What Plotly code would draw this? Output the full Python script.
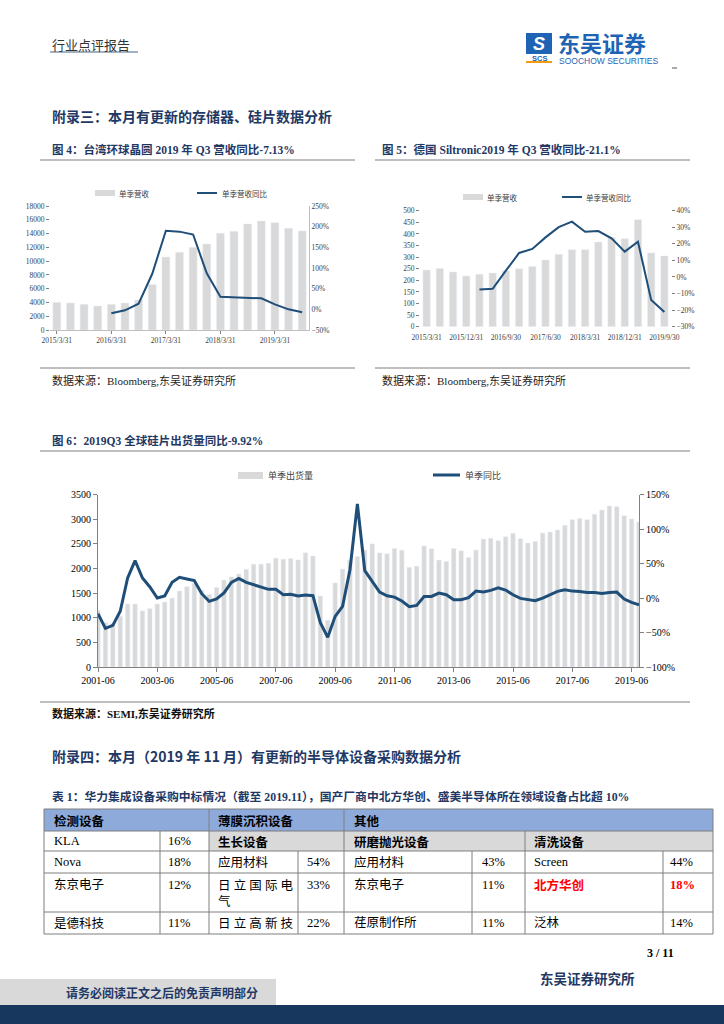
import plotly.graph_objects as go

# ---------------- data ----------------
fig4_quarters = ["2015/3/31", "2015/6/30", "2015/9/30", "2015/12/31", "2016/3/31", "2016/6/30",
                 "2016/9/30", "2016/12/31", "2017/3/31", "2017/6/30", "2017/9/30", "2017/12/31",
                 "2018/3/31", "2018/6/30", "2018/9/30", "2018/12/31", "2019/3/31", "2019/6/30", "2019/9/30"]
fig4_revenue = [4016, 3920, 3726, 3484, 3726, 3920, 4355, 6581, 10597, 11275, 12001, 12485,
                14033, 14323, 15388, 15823, 15581, 14759, 14372]
fig4_yoy = [None, None, None, None, -9.7, -2.4, 13.7, 86, 190, 188, 181, 87,
            30.6, 29.8, 28.2, 26.6, 12.1, 0.0, -7.13]
fig4_ticks = ["2015/3/31", "2016/3/31", "2017/3/31", "2018/3/31", "2019/3/31"]

fig5_quarters = fig4_quarters
fig5_revenue = [244, 251, 236, 218, 226, 231, 241, 250, 260, 287, 312, 332,
                332, 365, 384, 379, 461, 318, 305]
fig5_yoy = [None, None, None, None, -7.5, -7.1, 3.8, 14.5, 16.9, 23.9, 30.1, 33.4,
            27.3, 27.7, 23.3, 15.3, 21.3, -13.9, -21.1]
fig5_ticks = ["2015/3/31", "2015/12/31", "2016/9/30", "2017/6/30", "2018/3/31", "2018/12/31", "2019/9/30"]

fig6_quarters = [f"{y}-{m}" for y in range(2001, 2020) for m in ("03", "06", "09", "12")][1:75]
fig6_shipments = [1150, 900, 880, 1030, 1280, 1280, 1140, 1185, 1280, 1320, 1400, 1545, 1630, 1700,
                  1560, 1475, 1615, 1765, 1830, 1890, 1986, 2088, 2088, 2108, 2210, 2190, 2200, 2175,
                  2320, 2255, 1444, 950, 1708, 1990, 2170, 2245, 2376, 2500, 2318, 2300, 2406, 2373,
                  2024, 2048, 2460, 2403, 2173, 2142, 2406, 2360, 2224, 2376, 2600, 2613, 2566, 2647,
                  2715, 2606, 2518, 2552, 2721, 2742, 2782, 2877, 2992, 3019, 2992, 3101, 3189, 3270,
                  3256, 3074, 3006, 2945]
fig6_yoy = [-22.6, -43.9, -39.6, -19.2, 29.1, 54.3, 29.1, 16.1, 0.1, 3.0, 22.8, 30.1, 27.7, 25.3,
            6.4, -4.7, -1.3, 7.4, 22.8, 28.6, 22.8, 19.4, 15.1, 12.7, 12.7, 4.9, 5.4, 3.0,
            4.5, 3.5, -35.7, -57.0, -26.5, -12.0, 41.2, 136.5, 39.8, 25.1, 8.7, 3.4, 1.4, -4.3,
            -12.5, -10.6, 2.4, 2.4, 7.2, 4.8, -2.4, -2.4, 0.5, 10.1, 8.7, 11.1, 15.0, 11.6,
            4.8, -0.5, -1.9, -3.9, 0.0, 4.8, 9.7, 12.1, 10.1, 9.7, 8.2, 8.2, 6.8, 8.2,
            8.7, -1.4, -6.3, -9.92]
fig6_ticks = ["2001-06", "2003-06", "2005-06", "2007-06", "2009-06", "2011-06",
              "2013-06", "2015-06", "2017-06", "2019-06"]

table_header = ["检测设备", "薄膜沉积设备", "其他"]
table_sub = ["生长设备", "研磨抛光设备", "清洗设备"]
table_rows = [
    ["KLA", "16%", None, None, None, None, None, None],
    ["Nova", "18%", "应用材料", "54%", "应用材料", "43%", "Screen", "44%"],
    ["东京电子", "12%", "日 立 国 际 电<br>气", "33%", "东京电子", "11%", "北方华创", "18%"],
    ["是德科技", "11%", "日 立 高 新 技", "22%", "荏原制作所", "11%", "泛林", "14%"],
]

# ---------------- helpers ----------------
W, H = 724, 1024
def fx(x):
    return x / W
def fy(y):
    return 1 - y / H

NAVY = "#1F3864"
LINE = "#1F4E79"
BAR = "#D9D9D9"
SERIF = "Liberation Serif, Noto Sans CJK SC"
CJK = "Noto Sans CJK SC, Liberation Serif"

fig = go.Figure()

# Fig 4
fig.add_trace(go.Bar(x=fig4_quarters, y=fig4_revenue, marker_color=BAR, width=0.58,
                     xaxis="x", yaxis="y", showlegend=False))
fig.add_trace(go.Scatter(x=fig4_quarters, y=fig4_yoy, mode="lines", line=dict(color=LINE, width=2),
                         xaxis="x", yaxis="y2", showlegend=False, connectgaps=False))
# Fig 5
fig.add_trace(go.Bar(x=fig5_quarters, y=fig5_revenue, marker_color=BAR, width=0.55,
                     xaxis="x2", yaxis="y3", showlegend=False))
fig.add_trace(go.Scatter(x=fig5_quarters, y=fig5_yoy, mode="lines", line=dict(color=LINE, width=2),
                         xaxis="x2", yaxis="y4", showlegend=False))
# Fig 6
fig.add_trace(go.Bar(x=fig6_quarters, y=fig6_shipments, marker_color=BAR, width=0.6,
                     xaxis="x3", yaxis="y5", showlegend=False))
fig.add_trace(go.Scatter(x=fig6_quarters, y=fig6_yoy, mode="lines", line=dict(color=LINE, width=3),
                         xaxis="x3", yaxis="y6", showlegend=False))

small = dict(family=SERIF, size=7.5, color="#404040")
mid = dict(family=SERIF, size=10, color="#000000")

layout = dict(
    width=W, height=H, autosize=False, margin=dict(l=0, r=0, t=0, b=0, pad=0),
    paper_bgcolor="white", plot_bgcolor="rgba(0,0,0,0)", bargap=0.4,
    # fig 4
    xaxis=dict(domain=[fx(50), fx(309)], anchor="y", type="category", range=[-0.5, 18.5],
               tickvals=fig4_ticks, ticktext=fig4_ticks, tickfont=small, showline=True,
               linecolor="#BFBFBF", ticks="outside", ticklen=3, tickcolor="#808080",
               showgrid=False, automargin=False),
    yaxis=dict(domain=[fy(330), fy(206)], anchor="x", range=[0, 18000], dtick=2000,
               tickformat="d", tickfont=small, showgrid=False, zeroline=False, ticks="outside",
               ticklen=3, tickcolor="#808080", automargin=False),
    yaxis2=dict(domain=[fy(330), fy(206)], anchor="x", overlaying="y", side="right",
                range=[-50, 250], dtick=50, ticksuffix="%", tickfont=small, showgrid=False,
                zeroline=False, showline=True, linecolor="#BFBFBF", automargin=False),
    # fig 5
    xaxis2=dict(domain=[fx(420), fx(671)], anchor="y3", type="category", range=[-0.5, 18.5],
                tickvals=fig5_ticks, ticktext=fig5_ticks, tickfont=small, showline=False,
                ticks="outside", ticklen=3, tickcolor="rgba(0,0,0,0)",
                showgrid=False, automargin=False),
    yaxis3=dict(domain=[fy(326.7), fy(210.7)], anchor="x2", range=[0, 500], dtick=50,
                tickfont=small, showgrid=False, zeroline=False, ticks="outside", ticklen=3,
                tickcolor="#808080", automargin=False),
    yaxis4=dict(domain=[fy(326.7), fy(210.7)], anchor="x2", overlaying="y3", side="right",
                range=[-30, 40], dtick=10, ticksuffix="%", tickfont=small, showgrid=False,
                zeroline=False, ticks="outside", ticklen=3, tickcolor="#808080", automargin=False),
    # fig 6
    xaxis3=dict(domain=[fx(98), fx(639)], anchor="y5", type="category", range=[0, 73],
                tickvals=fig6_ticks, ticktext=fig6_ticks, tickfont=mid, showline=True,
                linecolor="#808080", ticks="outside", ticklen=4, tickcolor="#808080",
                showgrid=False, automargin=False),
    yaxis5=dict(domain=[fy(667), fy(494.7)], anchor="x3", range=[0, 3500], dtick=500,
                tickformat="d", tickfont=mid, showgrid=False, zeroline=False, showline=True,
                linecolor="#808080", ticks="outside", ticklen=4, tickcolor="#808080",
                automargin=False),
    yaxis6=dict(domain=[fy(667), fy(494.7)], anchor="x3", overlaying="y5", side="right",
                range=[-100, 150], dtick=50, ticksuffix="%", tickfont=mid, showgrid=False,
                zeroline=False, showline=True, linecolor="#808080", ticks="outside", ticklen=4,
                tickcolor="#808080", automargin=False),
)
fig.update_layout(**layout)

shapes = []
ann = []

def text(x, y, s, size=11, color="#000000", bold=False, family=CJK, xanchor="left", yanchor="middle", align="left"):
    if bold:
        s = f"<b>{s}</b>"
    ann.append(dict(x=fx(x), y=fy(y), xref="paper", yref="paper", text=s, showarrow=False,
                    xanchor=xanchor, yanchor=yanchor, align=align,
                    font=dict(size=size, color=color, family=family)))

def hline(x0, x1, y, color="#7F7F7F", width=1):
    shapes.append(dict(type="line", xref="paper", yref="paper", x0=fx(x0), x1=fx(x1),
                       y0=fy(y), y1=fy(y), line=dict(color=color, width=width)))

def vline(x, y0, y1, color="#7F7F7F", width=1):
    shapes.append(dict(type="line", xref="paper", yref="paper", x0=fx(x), x1=fx(x),
                       y0=fy(y0), y1=fy(y1), line=dict(color=color, width=width)))

def rect(x0, y0, x1, y1, fill, line_color=None):
    shapes.append(dict(type="rect", xref="paper", yref="paper", x0=fx(x0), x1=fx(x1),
                       y0=fy(y1), y1=fy(y0), fillcolor=fill,
                       line=dict(width=0 if line_color is None else 1, color=line_color or fill),
                       layer="below"))

# ---------- header ----------
text(50, 44, "行业点评报告", size=13, color="#333333")
hline(50, 138, 52, color="#8497B0", width=1.5)
rect(526, 33, 552, 54, "#1F63B5")
text(539, 43.5, "<i>S</i>", size=18, color="white", bold=True, family="Liberation Sans", xanchor="center")
text(539, 58, "SCS", size=7.5, color="#1F63B5", bold=True, family="Liberation Sans", xanchor="center")
hline(526, 552, 62, color="#F39C12", width=2)
text(556, 42, "东吴证券", size=22, color="#1F63B5", bold=True)
text(557, 61, "SOOCHOW SECURITIES", size=8.5, color="#1F63B5", family="Liberation Sans")
hline(672, 677, 68, color="#555555", width=1)

text(50, 116, "附录三：本月有更新的存储器、硅片数据分析", size=14, color=NAVY, bold=True)

# ---------- fig titles ----------
text(50, 149, "图 4：台湾环球晶圆 2019 年 Q3 营收同比-7.13%", size=11.5, color=NAVY, bold=True, family=SERIF)
hline(40, 355, 160)
text(380, 149, "图 5：德国 Siltronic2019 年 Q3 营收同比-21.1%", size=11.5, color=NAVY, bold=True, family=SERIF)
hline(375, 690, 160)

# legends fig 4
rect(95, 190, 115, 196, BAR)
text(117, 193, "单季营收", size=7.5, color="#404040")
hline(197, 217, 193, color=LINE, width=2)
text(220, 193, "单季营收同比", size=7.5, color="#404040")
# legends fig 5
rect(463, 194, 483, 200, BAR)
text(485, 197, "单季营收", size=7.5, color="#404040")
hline(562, 582, 197, color=LINE, width=2)
text(584, 197, "单季营收同比", size=7.5, color="#404040")

hline(40, 355, 368)
hline(375, 690, 368)
text(50, 380, "数据来源：Bloomberg,东吴证券研究所", size=11, color="#222222", family=SERIF)
text(380, 380, "数据来源：Bloomberg,东吴证券研究所", size=11, color="#222222", family=SERIF)

# ---------- fig 6 ----------
text(50, 440, "图 6：2019Q3 全球硅片出货量同比-9.92%", size=11.5, color=NAVY, bold=True, family=SERIF)
hline(40, 690, 451)
rect(238, 472, 263, 479, BAR)
text(266, 475, "单季出货量", size=9, color="#404040")
hline(433, 460, 475, color=LINE, width=3)
text(463, 475, "单季同比", size=9, color="#404040")
hline(40, 690, 702)
text(50, 713, "数据来源：SEMI,东吴证券研究所", size=11, color="#111111", bold=True, family=SERIF)

# ---------- section 4 ----------
text(50, 756, "附录四：本月（2019 年 11 月）有更新的半导体设备采购数据分析", size=14, color=NAVY, bold=True)
text(50, 797, "表 1：华力集成设备采购中标情况（截至 2019.11），国产厂商中北方华创、盛美半导体所在领域设备占比超 10%",
     size=11.8, color=NAVY, bold=True, family=SERIF)

# ---------- table ----------
TL, TR = 44, 713
rows_y = [809, 831, 851, 873, 912, 934]
rect(TL, 809, TR, 831, "#8EAADB")
rect(209, 831, TR, 851, BAR)
for y in rows_y:
    hline(TL, TR, y)
vline(TL, 809, 934)
vline(TR, 809, 934)
vline(209, 809, 934)
vline(344, 809, 934)
vline(160, 831, 934)
vline(525, 831, 934)
for x in (298, 472, 663):
    vline(x, 851, 934)

hdr_x = [52, 216, 352]
for x, s in zip(hdr_x, table_header):
    text(x, 820, s, size=12.5, color="#000000", bold=True)
sub_x = [216, 352, 532]
for x, s in zip(sub_x, table_sub):
    text(x, 841, s, size=12.5, color="#000000", bold=True)

col_x = [52, 166, 216, 305, 352, 480, 532, 668]
row_y = [841, 862, 884, 923]
for r, row in enumerate(table_rows):
    for c, s in enumerate(row):
        if s is None:
            continue
        red = (r == 2 and c >= 6)
        if r == 2:
            text(col_x[c], 876, s, size=12.5, color="#FF0000" if red else "#000000", bold=red,
                 family=SERIF, yanchor="top")
        else:
            text(col_x[c], row_y[r], s, size=12.5, color="#000000", family=SERIF)

# ---------- footer ----------
text(676, 953, "3 / 11", size=12, color="#000000", bold=True, family=SERIF, xanchor="right")
text(637, 978, "东吴证券研究所", size=13.5, color=NAVY, bold=True, xanchor="right")
rect(0, 979, 276, 1005, "#D9D9D9")
text(260, 992, "请务必阅读正文之后的免责声明部分", size=12, color=NAVY, bold=True, xanchor="right")
rect(0, 1005, W, H, "#17375E")

fig.update_layout(shapes=shapes, annotations=ann)
fig.write_html("out.html", config={"responsive": False, "displayModeBar": False},
               post_script="document.body.style.margin='0';document.body.style.overflow='hidden';")
